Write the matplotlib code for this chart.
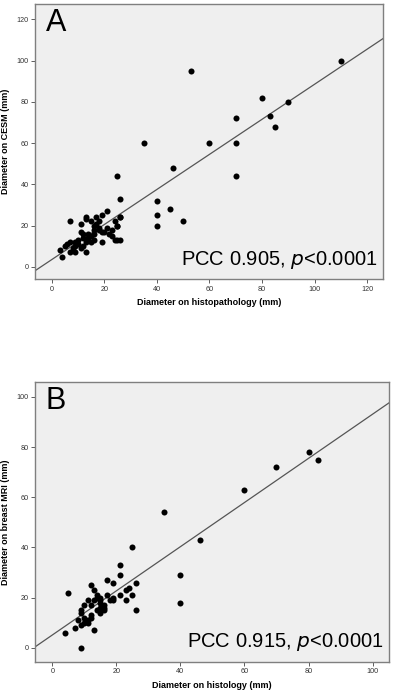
import matplotlib
matplotlib.use("Agg")
import matplotlib.pyplot as plt
import numpy as np

plt.rcParams['font.family'] = ['Liberation Sans', 'DejaVu Sans']

# Panel A: histopathology vs CESM (mm)
a_hist = [110, 53, 80, 90, 83, 85, 70, 70, 60, 70, 35, 46, 25, 26, 40, 40, 40, 45, 50,
          26, 25, 26, 25, 24, 23, 21, 19, 21, 22, 19,
          3, 4, 5, 6, 7, 7, 7, 8, 9, 9, 9, 10, 10, 11, 11, 12, 12, 12, 13, 13, 13,
          14, 14, 15, 15, 15, 16, 16, 16, 17, 17, 18, 18, 18, 19, 23, 25, 26,
          11, 13, 16, 20, 24]
a_cesm = [100, 95, 82, 80, 73, 68, 72, 60, 60, 44, 60, 48, 44, 33, 32, 25, 20, 28, 22,
          24, 13, 13, 20, 22, 18, 27, 25, 19, 16, 12,
          8, 5, 10, 11, 22, 7, 12, 9, 12, 10, 7, 11, 13, 9, 21, 16, 10, 14, 24, 23, 7,
          16, 14, 22, 15, 12, 18, 16, 13, 24, 21, 18, 19, 22, 17, 15, 20, 24,
          17, 12, 20, 17, 13]
a_fit = (3.5, 0.85)  # intercept, slope

# Panel B: histology vs breast MRI (mm)
b_hist = [80, 83, 70, 60, 35, 46, 40, 40, 25, 21, 21, 26, 26, 25, 23, 24, 23, 21,
          19, 17, 17, 18, 19, 19, 5, 4, 7, 9, 8, 9, 9, 9, 10, 10, 11, 11, 12, 12, 12, 12,
          13, 13, 13, 11, 10, 14, 14, 15, 15, 15, 16, 16, 15, 16, 14, 15]
b_mri = [78, 75, 72, 63, 54, 43, 29, 18, 40, 33, 29, 26, 15, 21, 23, 24, 19, 21,
         26, 27, 21, 19, 20, 19, 22, 6, 8, 0, 11, 15, 14, 9, 17, 10, 19, 11, 25, 17, 13, 12,
         23, 19, 7, 10, 12, 21, 15, 20, 18, 14, 16, 15, 16, 17, 20, 19]
b_fit = (5.1, 0.88)

fig = plt.figure(figsize=(3.94, 6.93), dpi=100)
ax1 = fig.add_axes([0.089, 0.597, 0.883, 0.397])
ax2 = fig.add_axes([0.089, 0.045, 0.898, 0.404])

bg = '#efefef'
edge = '#7f7f7f'

def style(ax, xlim, ylim, xticks, yticks, xlabel, ylabel, letter, text, hist, other, fit):
    ax.set_facecolor(bg)
    ax.scatter(hist, other, s=19, color='black', zorder=3, linewidths=0)
    xs = np.array(xlim)
    ax.plot(xs, fit[0] + fit[1] * xs, color='#555555', lw=0.9, zorder=2)
    ax.set_xlim(*xlim)
    ax.set_ylim(*ylim)
    ax.set_xticks(xticks)
    ax.set_yticks(yticks)
    ax.tick_params(direction='out', length=3, width=0.6, color='#444444',
                   labelsize=5.2, labelcolor='#333333', pad=1.5)
    for sp in ax.spines.values():
        sp.set_color(edge)
        sp.set_linewidth(1.0)
    ax.set_xlabel(xlabel, fontsize=6.5, fontweight='bold', labelpad=4)
    ax.set_ylabel(ylabel, fontsize=6.5, fontweight='bold', labelpad=5)
    ax.text(0.03, 0.985, letter, transform=ax.transAxes, fontsize=22,
            va='top', ha='left')
    ax.text(0.985, 0.03, text, transform=ax.transAxes, fontsize=14.5,
            va='bottom', ha='right')

style(ax1, (-6.3, 126), (-6, 127.3), [0, 20, 40, 60, 80, 100, 120],
      [0, 20, 40, 60, 80, 100, 120],
      'Diameter on histopathology (mm)', 'Diameter on CESM (mm)', 'A',
      'PCC 0.905, $\\it{p}$<0.0001', a_hist, a_cesm, a_fit)
style(ax2, (-5.4, 105.1), (-5.6, 106), [0, 20, 40, 60, 80, 100],
      [0, 20, 40, 60, 80, 100],
      'Diameter on histology (mm)', 'Diameter on breast MRI (mm)', 'B',
      'PCC 0.915, $\\it{p}$<0.0001', b_hist, b_mri, b_fit)

fig.savefig('out.png', dpi=100)
